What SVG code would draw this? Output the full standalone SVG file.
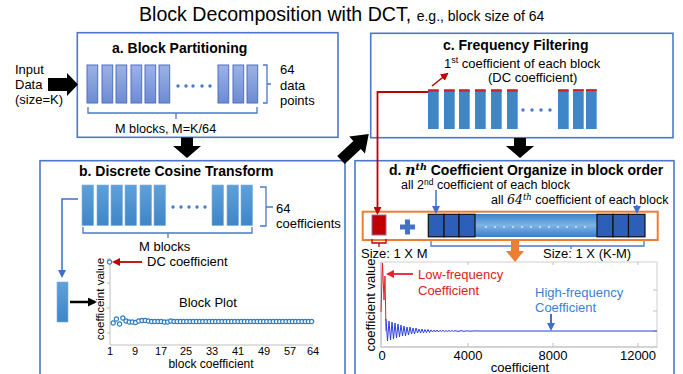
<svg xmlns="http://www.w3.org/2000/svg" width="683" height="374" viewBox="0 0 683 374">
<defs>
<style>
text{font-family:"Liberation Sans",Arial,sans-serif;fill:#000}
.h{font-weight:bold;font-size:14px}
.t{font-size:13px}
.s{font-size:12.5px}
.panel{fill:#fff;stroke:#4A78CC;stroke-width:1.6}
.ba{fill:url(#ga);stroke:#4F6FBF;stroke-width:1}
.bb{fill:url(#gb);stroke:#7FAEDD;stroke-width:0.6}
.bc{fill:#3F86C7}
.rs{fill:#D0202A}
.dot{fill:#4A78CC}
.brk{fill:none;stroke:#4A78CC;stroke-width:1.3}
.sq{fill:#2E5FB8;stroke:#111;stroke-width:1.2}
.circ{fill:#fff;stroke:#2E7DC2;stroke-width:1.2}
.ax{stroke:#BFBFBF;stroke-width:1;fill:none}
.blk{fill:#000}
</style>
<linearGradient id="ga" x1="0" y1="0" x2="0" y2="1"><stop offset="0" stop-color="#9DB3E6"/><stop offset="1" stop-color="#6C8BD2"/></linearGradient>
<linearGradient id="gb" x1="0" y1="0" x2="0" y2="1"><stop offset="0" stop-color="#5EA0DA"/><stop offset="1" stop-color="#3F86C7"/></linearGradient>
<linearGradient id="gbar" x1="0" y1="0" x2="0" y2="1"><stop offset="0" stop-color="#3E82CB"/><stop offset="0.5" stop-color="#7DB4E6"/><stop offset="1" stop-color="#3A7CC5"/></linearGradient>
<marker id="mBlue" markerWidth="8" markerHeight="8" refX="6" refY="4" orient="auto" markerUnits="userSpaceOnUse"><path d="M0,0 L8,4 L0,8 Z" fill="#3C6FCB"/></marker>
<marker id="mRed" markerWidth="8" markerHeight="8" refX="6" refY="4" orient="auto" markerUnits="userSpaceOnUse"><path d="M0,0 L8,4 L0,8 Z" fill="#C00000"/></marker>
<marker id="mRed2" markerWidth="8" markerHeight="8" refX="6" refY="4" orient="auto" markerUnits="userSpaceOnUse"><path d="M0,0 L8,4 L0,8 Z" fill="#E8202A"/></marker>
<marker id="mBlk" markerWidth="9" markerHeight="9" refX="7" refY="4.5" orient="auto" markerUnits="userSpaceOnUse"><path d="M0,0 L9,4.5 L0,9 Z" fill="#000"/></marker>
<circle id="c" r="2.1" class="circ"/>
</defs>
<rect width="683" height="374" fill="#fff"/>

<text x="139" y="21" style="font-size:19.6px">Block Decomposition with DCT, <tspan style="font-size:14px">e.g., block size of 64</tspan></text>

<g id="panel-a">
<rect class="panel" x="77.3" y="32.7" width="260.7" height="104.6"/>
<text class="h" x="112" y="53">a. Block Partitioning</text>
<rect class="ba" x="87" y="65" width="10.7" height="38"/>
<rect class="ba" x="102" y="65" width="10.7" height="38"/>
<rect class="ba" x="116" y="65" width="10.7" height="38"/>
<rect class="ba" x="131" y="65" width="10.7" height="38"/>
<rect class="ba" x="145" y="65" width="10.7" height="38"/>
<rect class="ba" x="159" y="65" width="10.7" height="38"/>
<rect class="ba" x="218" y="65" width="10.7" height="38"/>
<rect class="ba" x="233" y="65" width="10.7" height="38"/>
<rect class="ba" x="247" y="65" width="10.7" height="38"/>
<circle class="dot" cx="178" cy="86" r="1.7"/><circle class="dot" cx="186" cy="86" r="1.7"/><circle class="dot" cx="193" cy="86" r="1.7"/><circle class="dot" cx="202" cy="86" r="1.7"/><circle class="dot" cx="210" cy="86" r="1.7"/>
<path class="brk" d="M263,65 H267 V103 H263 M267,84 H271"/>
<path class="brk" d="M88,107 V113 H257 V107 M176,113 V119"/>
<text class="t" x="280" y="74">64</text>
<text class="t" x="280" y="90">data</text>
<text class="t" x="280" y="105">points</text>
<text x="115" y="133" style="font-size:12.7px">M blocks, M=K/64</text>
</g>

<g id="input">
<text class="t" x="15" y="74">Input</text>
<text class="t" x="15" y="89">Data</text>
<text class="t" x="15" y="104">(size=K)</text>
</g>

<g id="panel-b">
<rect class="panel" x="40" y="160.7" width="305" height="220"/>
<text class="h" x="79" y="176">b. Discrete Cosine Transform</text>
<rect class="bb" x="82" y="185" width="11.5" height="40.5"/>
<rect class="bb" x="97" y="185" width="11.5" height="40.5"/>
<rect class="bb" x="111" y="185" width="11.5" height="40.5"/>
<rect class="bb" x="125" y="185" width="11.5" height="40.5"/>
<rect class="bb" x="140" y="185" width="11.5" height="40.5"/>
<rect class="bb" x="154" y="185" width="11.5" height="40.5"/>
<rect class="bb" x="212" y="185" width="11.5" height="40.5"/>
<rect class="bb" x="227" y="185" width="11.5" height="40.5"/>
<rect class="bb" x="241" y="185" width="11.5" height="40.5"/>
<circle class="dot" cx="173" cy="207" r="1.7"/><circle class="dot" cx="181" cy="207" r="1.7"/><circle class="dot" cx="189" cy="207" r="1.7"/><circle class="dot" cx="197" cy="207" r="1.7"/><circle class="dot" cx="205" cy="207" r="1.7"/>
<path class="brk" d="M260,187 H266 V226 H260 M266,207 H273"/>
<path class="brk" d="M83,227 V233 H252 V227 M168,233 V238"/>
<text class="t" x="276" y="213">64</text>
<text class="t" x="276" y="228">coefficients</text>
<text class="t" x="139" y="251">M blocks</text>
<rect class="bb" x="57" y="282" width="11" height="40"/>
<path class="ax" d="M110,258 V345 H313 M107,259 H110 M107,283 H110 M107,308 H110 M107,333 H110"/>
<text transform="translate(104,299) rotate(-90)" text-anchor="middle" style="font-size:11.5px">coefficeint value</text>
<g style="font-size:11px" text-anchor="middle">
<text x="110" y="355">1</text><text x="135" y="355">9</text><text x="161" y="355">17</text><text x="186" y="355">25</text><text x="212" y="355">33</text><text x="238" y="355">41</text><text x="264" y="355">49</text><text x="290" y="355">57</text><text x="313" y="355">64</text>
</g>
<text x="211" y="368" text-anchor="middle" style="font-size:12px">block coefficient</text>
<text class="t" x="179" y="307">Block Plot</text>
<text class="t" x="147" y="266">DC coefficient</text>
<use href="#c" x="109.5" y="262"/>
<use href="#c" x="113.2" y="323"/><use href="#c" x="116.4" y="319"/><use href="#c" x="119.6" y="324"/><use href="#c" x="122.8" y="318"/><use href="#c" x="126" y="321"/><use href="#c" x="129.2" y="322"/><use href="#c" x="132.4" y="322"/><use href="#c" x="135.6" y="322.5"/><use href="#c" x="138.8" y="321"/><use href="#c" x="142" y="320.5"/><use href="#c" x="145.2" y="320.5"/><use href="#c" x="148.4" y="321"/><use href="#c" x="151.6" y="321.5"/><use href="#c" x="154.8" y="321.5"/><use href="#c" x="158" y="321.5"/><use href="#c" x="161.2" y="321.5"/><use href="#c" x="164.4" y="322"/><use href="#c" x="167.6" y="322"/><use href="#c" x="170.8" y="321"/><use href="#c" x="174" y="321.5"/><use href="#c" x="177.2" y="321.5"/><use href="#c" x="180.4" y="321.5"/><use href="#c" x="183.6" y="321.5"/><use href="#c" x="186.8" y="321.5"/><use href="#c" x="190" y="321.5"/><use href="#c" x="193.2" y="321.5"/><use href="#c" x="196.4" y="321.5"/><use href="#c" x="199.6" y="321.5"/><use href="#c" x="202.8" y="321.5"/><use href="#c" x="206" y="321.5"/><use href="#c" x="209.2" y="321.5"/><use href="#c" x="212.4" y="321.5"/><use href="#c" x="215.6" y="321.5"/><use href="#c" x="218.8" y="321.5"/><use href="#c" x="222" y="321.5"/><use href="#c" x="225.2" y="321.5"/><use href="#c" x="228.4" y="321.5"/><use href="#c" x="231.6" y="321.5"/><use href="#c" x="234.8" y="321.5"/><use href="#c" x="238" y="321.5"/><use href="#c" x="241.2" y="321.5"/><use href="#c" x="244.4" y="321.5"/><use href="#c" x="247.6" y="321.5"/><use href="#c" x="250.8" y="321.5"/><use href="#c" x="254" y="321.5"/><use href="#c" x="257.2" y="321.5"/><use href="#c" x="260.4" y="321.5"/><use href="#c" x="263.6" y="321.5"/><use href="#c" x="266.8" y="321.5"/><use href="#c" x="270" y="321.5"/><use href="#c" x="273.2" y="321.5"/><use href="#c" x="276.4" y="321.5"/><use href="#c" x="279.6" y="321.5"/><use href="#c" x="282.8" y="321.5"/><use href="#c" x="286" y="321.5"/><use href="#c" x="289.2" y="321.5"/><use href="#c" x="292.4" y="321.5"/><use href="#c" x="295.6" y="321.5"/><use href="#c" x="298.8" y="321.5"/><use href="#c" x="302" y="321.5"/><use href="#c" x="305.2" y="321.5"/><use href="#c" x="308.4" y="321.5"/><use href="#c" x="311.6" y="321.5"/>
</g>

<g id="panel-c">
<rect class="panel" x="370.7" y="33.3" width="302.3" height="104.4"/>
<text class="h" x="443" y="50">c. Frequency Filtering</text>
<text class="t" x="444" y="68">1<tspan dy="-5" style="font-size:9px">st</tspan><tspan dy="5"> coefficient of each block</tspan></text>
<text class="t" x="488" y="82">(DC coefficient)</text>
<rect class="bc" x="428" y="89" width="10.7" height="40"/>
<rect class="bc" x="444" y="89" width="10.7" height="40"/>
<rect class="bc" x="459" y="89" width="10.7" height="40"/>
<rect class="bc" x="475" y="89" width="10.7" height="40"/>
<rect class="bc" x="491" y="89" width="10.7" height="40"/>
<rect class="bc" x="507" y="89" width="10.7" height="40"/>
<rect class="bc" x="558" y="89" width="10.7" height="40"/>
<rect class="bc" x="573" y="89" width="10.7" height="40"/>
<rect class="bc" x="586" y="89" width="10.7" height="40"/>
<rect class="rs" x="428" y="90" width="10.7" height="1.6"/>
<rect class="rs" x="444" y="90" width="10.7" height="1.6"/>
<rect class="rs" x="459" y="90" width="10.7" height="1.6"/>
<rect class="rs" x="475" y="90" width="10.7" height="1.6"/>
<rect class="rs" x="491" y="90" width="10.7" height="1.6"/>
<rect class="rs" x="507" y="90" width="10.7" height="1.6"/>
<rect class="rs" x="558" y="90" width="10.7" height="1.6"/>
<rect class="rs" x="573" y="89.5" width="10.7" height="1.6"/>
<rect class="rs" x="586" y="89.5" width="10.7" height="1.6"/>
<circle class="dot" cx="523" cy="110" r="1.7"/><circle class="dot" cx="532" cy="110" r="1.7"/><circle class="dot" cx="541" cy="110" r="1.7"/><circle class="dot" cx="550" cy="110" r="1.7"/>
</g>

<g id="panel-d">
<rect class="panel" x="355" y="160.7" width="319" height="220"/>
<text class="h" x="389" y="174.5">d. <tspan style="font-family:'DejaVu Serif',serif;font-style:italic">n</tspan><tspan dy="-5" style="font-family:'DejaVu Serif',serif;font-style:italic;font-size:9.5px">th</tspan><tspan dy="5"> Coefficient Organize in block order</tspan></text>
<text class="s" x="401" y="188.5">all 2<tspan dy="-4" style="font-size:8.5px">nd</tspan><tspan dy="4"> coefficient of each block</tspan></text>
<text class="s" x="491" y="204">all <tspan style="font-family:'DejaVu Serif',serif;font-style:italic">64</tspan><tspan dy="-4" style="font-family:'DejaVu Serif',serif;font-style:italic;font-size:8.5px">th</tspan><tspan dy="4"> coefficient of each block</tspan></text>
<rect x="362.7" y="211.7" width="295" height="28.3" fill="none" stroke="#ED7D31" stroke-width="2"/>
<rect x="372" y="215" width="14" height="20" fill="#C00000" stroke="#8E6FA8" stroke-width="1"/>
<path d="M400,224.5 H405 V219.5 H410 V224.5 H415 V229.5 H410 V234.5 H405 V229.5 H400 Z" fill="#4472C4"/>
<rect x="428" y="214" width="217" height="23" fill="url(#gbar)"/>
<rect class="sq" x="428.3" y="214.3" width="15.7" height="22.5"/>
<rect class="sq" x="444" y="214.3" width="15" height="22.5"/>
<rect class="sq" x="459" y="214.3" width="16" height="22.5"/>
<rect class="sq" x="597" y="214.3" width="16" height="22.5"/>
<rect class="sq" x="613" y="214.3" width="15.5" height="22.5"/>
<rect class="sq" x="628.5" y="214.3" width="16.5" height="22.5"/>
<g fill="#DCEBFA"><circle cx="486" cy="227" r="0.9"/><circle cx="495" cy="227" r="0.9"/><circle cx="504" cy="227" r="0.9"/><circle cx="513" cy="227" r="0.9"/><circle cx="522" cy="227" r="0.9"/><circle cx="531" cy="227" r="0.9"/><circle cx="540" cy="227" r="0.9"/><circle cx="549" cy="227" r="0.9"/><circle cx="558" cy="227" r="0.9"/><circle cx="567" cy="227" r="0.9"/><circle cx="576" cy="227" r="0.9"/><circle cx="585" cy="227" r="0.9"/></g>
<path d="M372,239 V243 H386 V239 M379,243 V247" fill="none" stroke="#C00000" stroke-width="1.3"/>
<path class="brk" d="M431,241 V246 H644 V241 M571,246 V249"/>
<text class="t" x="361" y="258">Size: 1 X M</text>
<text class="t" x="543" y="258">Size: 1 X (K-M)</text>
<rect x="381" y="262" width="276" height="85" fill="none" stroke="#D0D0D0" stroke-width="1"/>
<path class="ax" d="M381,262 V347 H657 M653,290 H657 M653,311 H657 M653,331 H657 M468,343 V347 M553,343 V347 M638,343 V347 M468,262 V265 M553,262 V265 M638,262 V265"/>
<polyline points="381,312 382.5,263 384,300 385,276 386,331" fill="none" stroke="#E8202A" stroke-width="1"/>
<polyline points="386,319 387.5,341 389,321 390.5,340 392,322 393.5,339 395,323 396.5,338 398,324 399.5,337 401,325 402.5,336 404,326 405.5,336 407,327 408.5,335 410,327 411.5,334 413,328 414.5,334 416,328 417.5,333 419,329 420.5,333 422,329 423.5,333 425,329.5 426.5,332.5 428,329.5 429.5,332.5 431,330 432.5,332 434,330 435.5,332 437,330 438.5,332 440,330.3 441.5,331.7 443,330.3 444.5,331.7 446,330.5 447.5,331.5 449,330.5 450.5,331.5 452,330.5 453.5,331.5 455,330.6 458,331.4 461,330.7 464,331.3 467,330.8 470,331.2 475,330.9 480,331 657,331" fill="none" stroke="#2A3FE0" stroke-width="1"/>
<text transform="translate(375,305) rotate(-90)" text-anchor="middle" class="t">coefficient value</text>
<g class="t" text-anchor="middle">
<text x="382" y="360">0</text><text x="468" y="360">4000</text><text x="553" y="360">8000</text><text x="638" y="360">12000</text>
</g>
<text x="520" y="372" text-anchor="middle" class="t">coefficient</text>
<text x="418" y="279" class="t" style="fill:#E02020">Low-frequency</text>
<text x="418" y="295" class="t" style="fill:#E02020">Coefficient</text>
<text x="535" y="297" class="t" style="fill:#3A7FD5">High-frequency</text>
<text x="535" y="312" class="t" style="fill:#3A7FD5">Coefficient</text>
</g>

<g id="connectors">
<polygon class="blk" points="48,78 67,78 67,73 78,84.5 67,96 67,91 48,91"/>
<polygon class="blk" points="181,137.5 193,137.5 193,146 201,146 187,158 173,146 181,146"/>
<polygon class="blk" points="514,138 526,138 526,146 534,146 520,158 506,146 514,146"/>
<polygon class="blk" transform="translate(341,160) rotate(-43)" points="0,-5.5 22,-5.5 22,-11.5 38,0 22,11.5 22,5.5 0,5.5"/>
<polyline points="78,199 62,199 62,276" fill="none" stroke="#3C6FCB" stroke-width="1.5" marker-end="url(#mBlue)"/>
<line x1="70" y1="302" x2="95" y2="302" stroke="#000" stroke-width="2.5" marker-end="url(#mBlk)"/>
<line x1="142" y1="262" x2="114" y2="262" stroke="#C00000" stroke-width="1.8" marker-end="url(#mRed)"/>
<line x1="432" y1="86" x2="447" y2="74" stroke="#C00000" stroke-width="1.6" marker-end="url(#mRed)"/>
<polyline points="428,92 377.5,92 377.5,213" fill="none" stroke="#C00000" stroke-width="1.8" marker-end="url(#mRed)"/>
<line x1="436" y1="190" x2="436" y2="212" stroke="#3C6FCB" stroke-width="1.5" marker-end="url(#mBlue)"/>
<line x1="637" y1="205" x2="637" y2="212" stroke="#3C6FCB" stroke-width="1.5" marker-end="url(#mBlue)"/>
<polygon points="511,241 519,241 519,251 524,251 515,262 506,251 511,251" fill="#ED7D31"/>
<line x1="413" y1="274" x2="388" y2="274" stroke="#E8202A" stroke-width="1.8" marker-end="url(#mRed2)"/>
<line x1="551" y1="314" x2="551" y2="329" stroke="#2E5FC8" stroke-width="1.8" marker-end="url(#mBlue)"/>
</g>
</svg>
